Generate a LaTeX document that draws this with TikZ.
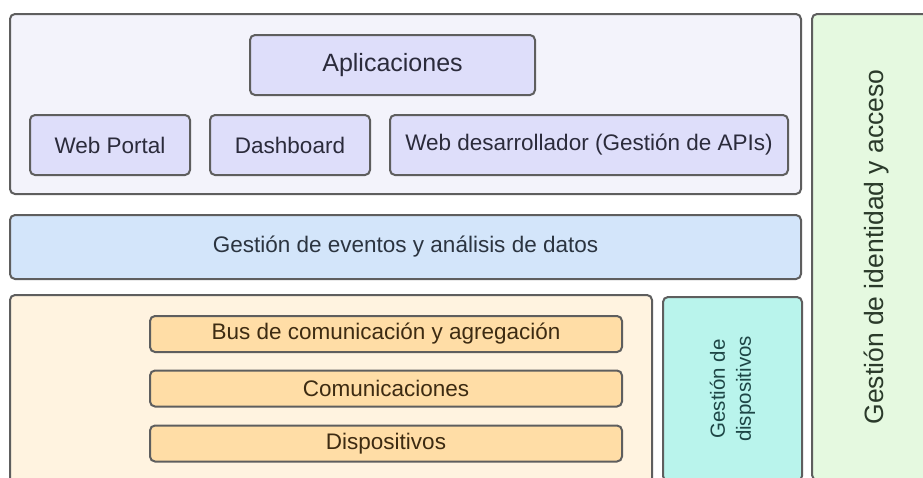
\documentclass[tikz,border=0pt]{standalone}
\usepackage{fontspec}
\setmainfont{Liberation Sans}
\definecolor{strokegray}{HTML}{5E5E5E}
\definecolor{outerfill}{HTML}{F3F3FB}
\definecolor{lavender}{HTML}{DEDEFA}
\definecolor{bandblue}{HTML}{D3E5FA}
\definecolor{beige}{HTML}{FFF3E0}
\definecolor{orangebar}{HTML}{FFDDA6}
\definecolor{cyanbox}{HTML}{B9F4EC}
\definecolor{greenbox}{HTML}{E5F9E0}
\definecolor{txtlav}{HTML}{2B2B3B}
\definecolor{txtorange}{HTML}{3D2B12}
\definecolor{txtcyan}{HTML}{1E4646}
\definecolor{txtgreen}{HTML}{2A3A2A}
\definecolor{txtblue}{HTML}{2B3440}
\tikzset{
  panel/.style={draw=strokegray, line width=2pt, rounded corners=5pt, inner sep=0pt, outer sep=0pt},
  lavbox/.style={panel, fill=lavender, text=txtlav, font=\fontsize{22.5}{26}\selectfont},
  barbox/.style={panel, fill=orangebar, text=txtorange, font=\fontsize{22.5}{26}\selectfont},
}
\begin{document}
\begin{tikzpicture}[x=1pt,y=-1pt]
\useasboundingbox (0,0) rectangle (923,477);
\clip (0,0) rectangle (923,477);
\fill[white] (0,0) rectangle (923,477);
% outer panels
\node[panel, fill=outerfill, minimum width=791pt, minimum height=180pt] (top) at (405.5,104) {};
\node[panel, fill=bandblue, text=txtblue, font=\fontsize{22.5}{26}\selectfont, minimum width=791pt, minimum height=64pt] (band) at (405.5,247) {Gestión de eventos y análisis de datos};
\node[panel, fill=beige, minimum width=642pt, minimum height=200pt] (base) at (331,395) {};
\node[panel, fill=cyanbox, text=txtcyan, font=\fontsize{20.5}{26}\selectfont, align=center, rotate=90, minimum width=184pt, minimum height=139pt] (devmgmt) at (732.5,389) {Gestión de\\dispositivos};
\node[panel, fill=greenbox, text=txtgreen, font=\fontsize{26.5}{30}\selectfont, rotate=90, minimum width=466pt, minimum height=128pt] (idm) at (876,247) {Gestión de identidad y acceso};
% top boxes
\node[lavbox, font=\fontsize{25}{28}\selectfont, minimum width=285pt, minimum height=60pt] (apps) at (392.5,65) {Aplicaciones};
\node[lavbox, minimum width=160pt, minimum height=60pt] (portal) at (110,145) {Web Portal};
\node[lavbox, minimum width=160pt, minimum height=60pt] (dash) at (290,145) {Dashboard};
\node[lavbox, minimum width=398pt, minimum height=60pt] (devweb) at (589,145) {Web desarrollador (Gestión de APIs)};
% bars
\node[barbox, minimum width=472pt, minimum height=36pt] (bus) at (386,334) {Bus de comunicación y agregación};
\node[barbox, minimum width=472pt, minimum height=36pt] (comm) at (386,388.5) {Comunicaciones};
\node[barbox, minimum width=472pt, minimum height=36pt] (devs) at (386,443.5) {Dispositivos};
\end{tikzpicture}
\end{document}
